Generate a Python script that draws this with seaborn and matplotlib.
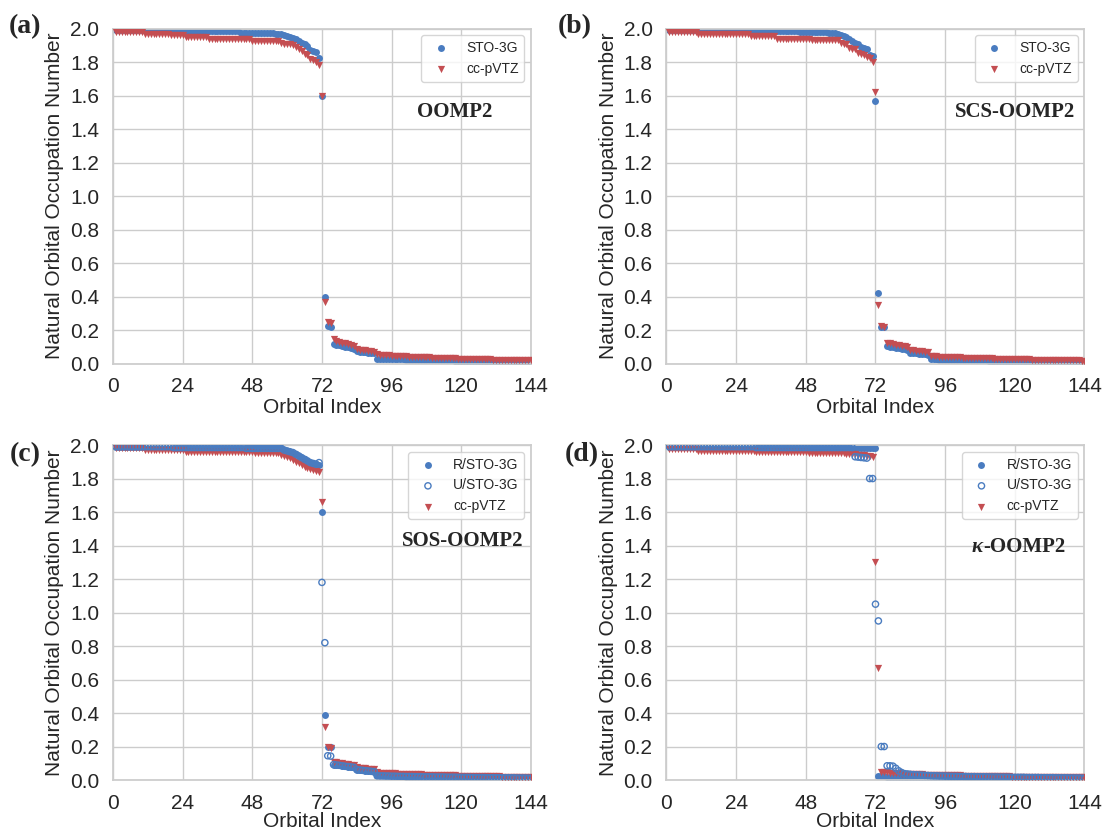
import numpy as np
import pandas as pd
import matplotlib
matplotlib.use("Agg")
import matplotlib.pyplot as plt
import seaborn as sns

# ---------------------------------------------------------------------------
# Natural orbital occupation numbers, orbitals 1..144 (72 doubly occupied)
# ---------------------------------------------------------------------------
n_orb = 144
orbital = np.arange(1, n_orb + 1)

# shared slow-decaying virtual tails (orbitals 97-144)
tail_sto_a = [
    0.026, 0.026, 0.025, 0.025, 0.024, 0.024, 0.023, 0.023, 0.022, 0.022, 0.022, 0.021,
    0.021, 0.021, 0.020, 0.020, 0.020, 0.019, 0.019, 0.019, 0.019, 0.018, 0.018, 0.018,
    0.018, 0.017, 0.017, 0.017, 0.017, 0.016, 0.016, 0.016, 0.016, 0.016, 0.015, 0.015,
    0.015, 0.015, 0.015, 0.014, 0.014, 0.014, 0.014, 0.014, 0.013, 0.013, 0.013, 0.012,
]
tail_sto_b = [
    0.023, 0.022, 0.022, 0.022, 0.021, 0.021, 0.021, 0.020, 0.020, 0.020, 0.019, 0.019,
    0.019, 0.019, 0.018, 0.018, 0.018, 0.018, 0.017, 0.017, 0.017, 0.017, 0.016, 0.016,
    0.016, 0.016, 0.016, 0.015, 0.015, 0.015, 0.015, 0.015, 0.014, 0.014, 0.014, 0.014,
    0.014, 0.013, 0.013, 0.013, 0.013, 0.013, 0.012, 0.012, 0.012, 0.012, 0.011, 0.011,
]
tail_tz_a = [
    0.047, 0.046, 0.045, 0.044, 0.043, 0.042, 0.041, 0.040, 0.040, 0.039, 0.038, 0.037,
    0.037, 0.036, 0.035, 0.035, 0.034, 0.033, 0.033, 0.032, 0.031, 0.031, 0.030, 0.030,
    0.029, 0.029, 0.028, 0.028, 0.027, 0.027, 0.026, 0.026, 0.025, 0.025, 0.024, 0.024,
    0.023, 0.023, 0.023, 0.022, 0.022, 0.021, 0.021, 0.021, 0.020, 0.020, 0.019, 0.019,
]
tail_tz_b = [
    0.040, 0.039, 0.038, 0.038, 0.037, 0.036, 0.036, 0.035, 0.034, 0.034, 0.033, 0.033,
    0.032, 0.032, 0.031, 0.031, 0.030, 0.030, 0.029, 0.029, 0.028, 0.028, 0.027, 0.027,
    0.026, 0.026, 0.026, 0.025, 0.025, 0.024, 0.024, 0.024, 0.023, 0.023, 0.022, 0.022,
    0.022, 0.021, 0.021, 0.021, 0.020, 0.020, 0.020, 0.019, 0.019, 0.019, 0.018, 0.018,
]

# (a) OOMP2
oomp2_sto = [
    1.990, 1.990, 1.990, 1.990, 1.990, 1.990, 1.990, 1.990, 1.990, 1.990, 1.990, 1.990,
    1.990, 1.990, 1.990, 1.990, 1.990, 1.990, 1.990, 1.990, 1.985, 1.985, 1.985, 1.985,
    1.985, 1.985, 1.985, 1.985, 1.985, 1.985, 1.985, 1.985, 1.985, 1.985, 1.985, 1.985,
    1.985, 1.985, 1.985, 1.985, 1.985, 1.985, 1.985, 1.975, 1.975, 1.975, 1.975, 1.975,
    1.975, 1.975, 1.975, 1.975, 1.975, 1.975, 1.975, 1.970, 1.968, 1.965, 1.960, 1.955,
    1.950, 1.945, 1.935, 1.925, 1.915, 1.905, 1.895, 1.870, 1.865, 1.860, 1.825, 1.600,
    0.395, 0.222, 0.220, 0.118, 0.112, 0.108, 0.104, 0.100, 0.096, 0.092, 0.088, 0.072,
    0.070, 0.068, 0.066, 0.064, 0.062, 0.060, 0.030, 0.029, 0.028, 0.028, 0.027, 0.027,
] + tail_sto_a
oomp2_tz = [
    1.980, 1.980, 1.980, 1.980, 1.980, 1.980, 1.980, 1.980, 1.980, 1.980, 1.970, 1.970,
    1.970, 1.970, 1.970, 1.970, 1.970, 1.970, 1.970, 1.960, 1.960, 1.960, 1.960, 1.960,
    1.950, 1.950, 1.950, 1.950, 1.950, 1.950, 1.950, 1.950, 1.940, 1.940, 1.940, 1.940,
    1.940, 1.940, 1.940, 1.940, 1.940, 1.940, 1.940, 1.940, 1.940, 1.940, 1.940, 1.928,
    1.928, 1.928, 1.928, 1.928, 1.928, 1.928, 1.928, 1.928, 1.928, 1.912, 1.910, 1.908,
    1.905, 1.900, 1.890, 1.875, 1.865, 1.850, 1.845, 1.820, 1.815, 1.800, 1.780, 1.600,
    0.365, 0.248, 0.245, 0.145, 0.135, 0.130, 0.125, 0.120, 0.115, 0.110, 0.105, 0.085,
    0.082, 0.080, 0.078, 0.075, 0.072, 0.070, 0.055, 0.053, 0.051, 0.050, 0.049, 0.048,
] + tail_tz_a

# (b) SCS-OOMP2
scs_sto = [
    1.990, 1.990, 1.990, 1.990, 1.990, 1.990, 1.990, 1.990, 1.990, 1.990, 1.990, 1.990,
    1.990, 1.990, 1.990, 1.990, 1.990, 1.990, 1.990, 1.985, 1.985, 1.985, 1.985, 1.985,
    1.985, 1.985, 1.985, 1.985, 1.985, 1.985, 1.985, 1.985, 1.985, 1.985, 1.985, 1.985,
    1.985, 1.985, 1.985, 1.985, 1.985, 1.985, 1.985, 1.985, 1.985, 1.978, 1.978, 1.978,
    1.978, 1.978, 1.978, 1.978, 1.978, 1.978, 1.978, 1.975, 1.975, 1.975, 1.965, 1.960,
    1.955, 1.950, 1.935, 1.925, 1.915, 1.905, 1.890, 1.885, 1.880, 1.840, 1.835, 1.570,
    0.420, 0.220, 0.218, 0.105, 0.100, 0.096, 0.092, 0.090, 0.087, 0.084, 0.080, 0.065,
    0.062, 0.060, 0.058, 0.056, 0.054, 0.052, 0.026, 0.025, 0.025, 0.024, 0.024, 0.023,
] + tail_sto_b
scs_tz = [
    1.980, 1.980, 1.980, 1.980, 1.980, 1.980, 1.980, 1.980, 1.980, 1.980, 1.970, 1.970,
    1.970, 1.970, 1.970, 1.970, 1.970, 1.970, 1.970, 1.970, 1.970, 1.970, 1.970, 1.970,
    1.970, 1.970, 1.970, 1.970, 1.955, 1.955, 1.955, 1.955, 1.955, 1.955, 1.955, 1.955,
    1.955, 1.940, 1.940, 1.940, 1.940, 1.940, 1.940, 1.940, 1.940, 1.940, 1.940, 1.940,
    1.940, 1.930, 1.930, 1.930, 1.930, 1.930, 1.930, 1.930, 1.930, 1.930, 1.930, 1.915,
    1.910, 1.905, 1.885, 1.880, 1.875, 1.855, 1.850, 1.845, 1.830, 1.825, 1.800, 1.620,
    0.350, 0.222, 0.220, 0.125, 0.120, 0.115, 0.112, 0.110, 0.106, 0.103, 0.100, 0.080,
    0.078, 0.076, 0.074, 0.072, 0.070, 0.068, 0.045, 0.044, 0.043, 0.042, 0.041, 0.040,
] + tail_tz_b

# (c) SOS-OOMP2
sos_rsto = [
    1.990, 1.990, 1.990, 1.990, 1.990, 1.990, 1.990, 1.990, 1.990, 1.990, 1.990, 1.990,
    1.990, 1.990, 1.990, 1.990, 1.990, 1.990, 1.990, 1.990, 1.985, 1.985, 1.985, 1.985,
    1.985, 1.985, 1.985, 1.985, 1.985, 1.985, 1.985, 1.985, 1.985, 1.985, 1.985, 1.985,
    1.985, 1.985, 1.985, 1.985, 1.985, 1.985, 1.985, 1.985, 1.985, 1.980, 1.980, 1.980,
    1.980, 1.980, 1.980, 1.980, 1.980, 1.980, 1.980, 1.980, 1.980, 1.980, 1.970, 1.965,
    1.960, 1.955, 1.945, 1.935, 1.925, 1.915, 1.905, 1.895, 1.890, 1.885, 1.880, 1.600,
    0.390, 0.200, 0.198, 0.092, 0.090, 0.088, 0.085, 0.082, 0.080, 0.078, 0.076, 0.062,
    0.060, 0.058, 0.056, 0.054, 0.052, 0.050, 0.026, 0.025, 0.025, 0.024, 0.024, 0.023,
] + tail_sto_b
sos_usto = [
    1.990, 1.990, 1.990, 1.990, 1.990, 1.990, 1.990, 1.990, 1.990, 1.990, 1.990, 1.990,
    1.990, 1.990, 1.990, 1.990, 1.990, 1.990, 1.990, 1.990, 1.985, 1.985, 1.985, 1.985,
    1.985, 1.985, 1.985, 1.985, 1.985, 1.985, 1.985, 1.985, 1.985, 1.985, 1.985, 1.985,
    1.985, 1.985, 1.985, 1.985, 1.985, 1.985, 1.985, 1.985, 1.985, 1.980, 1.980, 1.980,
    1.980, 1.980, 1.980, 1.980, 1.980, 1.980, 1.980, 1.980, 1.980, 1.980, 1.970, 1.965,
    1.960, 1.955, 1.945, 1.935, 1.925, 1.915, 1.905, 1.895, 1.890, 1.885, 1.895, 1.180,
    0.820, 0.145, 0.143, 0.092, 0.090, 0.088, 0.085, 0.082, 0.080, 0.078, 0.076, 0.062,
    0.060, 0.058, 0.056, 0.054, 0.052, 0.050, 0.026, 0.025, 0.025, 0.024, 0.024, 0.023,
] + tail_sto_b
sos_tz = [
    1.980, 1.980, 1.980, 1.980, 1.980, 1.980, 1.980, 1.980, 1.980, 1.980, 1.970, 1.970,
    1.970, 1.970, 1.970, 1.970, 1.970, 1.970, 1.970, 1.970, 1.970, 1.970, 1.970, 1.970,
    1.960, 1.960, 1.960, 1.960, 1.960, 1.960, 1.960, 1.960, 1.960, 1.960, 1.960, 1.960,
    1.960, 1.960, 1.960, 1.960, 1.960, 1.960, 1.960, 1.960, 1.960, 1.960, 1.960, 1.960,
    1.955, 1.955, 1.955, 1.955, 1.955, 1.955, 1.950, 1.950, 1.950, 1.940, 1.935, 1.930,
    1.920, 1.910, 1.900, 1.890, 1.880, 1.870, 1.862, 1.856, 1.850, 1.845, 1.838, 1.660,
    0.315, 0.195, 0.190, 0.108, 0.105, 0.102, 0.100, 0.097, 0.094, 0.092, 0.090, 0.075,
    0.073, 0.071, 0.069, 0.067, 0.066, 0.065, 0.045, 0.044, 0.043, 0.042, 0.041, 0.040,
] + tail_tz_b

# (d) kappa-OOMP2
kappa_rsto = [
    1.990, 1.990, 1.990, 1.990, 1.990, 1.990, 1.990, 1.990, 1.990, 1.990, 1.990, 1.990,
    1.990, 1.990, 1.990, 1.990, 1.990, 1.990, 1.990, 1.990, 1.990, 1.990, 1.990, 1.990,
    1.990, 1.990, 1.990, 1.990, 1.990, 1.990, 1.985, 1.985, 1.985, 1.985, 1.985, 1.985,
    1.985, 1.985, 1.985, 1.985, 1.985, 1.985, 1.985, 1.985, 1.985, 1.985, 1.985, 1.985,
    1.985, 1.985, 1.985, 1.985, 1.985, 1.985, 1.985, 1.985, 1.985, 1.985, 1.985, 1.985,
    1.985, 1.985, 1.985, 1.985, 1.985, 1.985, 1.985, 1.985, 1.985, 1.985, 1.985, 1.985,
    0.022, 0.022, 0.022, 0.021, 0.021, 0.021, 0.021, 0.020, 0.020, 0.020, 0.020, 0.020,
    0.019, 0.019, 0.019, 0.019, 0.018, 0.018, 0.018, 0.018, 0.018, 0.017, 0.017, 0.017,
    0.017, 0.017, 0.016, 0.016, 0.016, 0.016, 0.016, 0.015, 0.015, 0.015, 0.015, 0.015,
    0.014, 0.014, 0.014, 0.014, 0.014, 0.014, 0.013, 0.013, 0.013, 0.013, 0.013, 0.013,
    0.013, 0.012, 0.012, 0.012, 0.012, 0.012, 0.012, 0.012, 0.011, 0.011, 0.011, 0.011,
    0.011, 0.011, 0.011, 0.011, 0.010, 0.010, 0.010, 0.010, 0.010, 0.010, 0.010, 0.010,
]
kappa_usto = [
    1.990, 1.990, 1.990, 1.990, 1.990, 1.990, 1.990, 1.990, 1.990, 1.990, 1.990, 1.990,
    1.990, 1.990, 1.990, 1.990, 1.990, 1.990, 1.990, 1.990, 1.990, 1.990, 1.990, 1.990,
    1.990, 1.990, 1.990, 1.990, 1.990, 1.990, 1.985, 1.985, 1.985, 1.985, 1.985, 1.985,
    1.985, 1.985, 1.985, 1.985, 1.985, 1.985, 1.985, 1.985, 1.985, 1.985, 1.985, 1.985,
    1.985, 1.985, 1.985, 1.985, 1.985, 1.985, 1.985, 1.985, 1.985, 1.985, 1.985, 1.985,
    1.985, 1.985, 1.985, 1.985, 1.930, 1.928, 1.926, 1.924, 1.922, 1.800, 1.800, 1.050,
    0.950, 0.200, 0.200, 0.085, 0.085, 0.083, 0.070, 0.055, 0.045, 0.038, 0.036, 0.034,
    0.032, 0.031, 0.030, 0.029, 0.028, 0.027, 0.026, 0.025, 0.025, 0.024, 0.024, 0.023,
] + tail_sto_b
kappa_tz = [
    1.975, 1.975, 1.975, 1.975, 1.975, 1.975, 1.975, 1.975, 1.975, 1.975, 1.965, 1.965,
    1.965, 1.965, 1.965, 1.965, 1.965, 1.965, 1.965, 1.965, 1.965, 1.965, 1.965, 1.965,
    1.965, 1.965, 1.965, 1.965, 1.965, 1.965, 1.958, 1.958, 1.958, 1.958, 1.958, 1.958,
    1.958, 1.958, 1.958, 1.958, 1.958, 1.958, 1.958, 1.958, 1.958, 1.958, 1.958, 1.958,
    1.950, 1.950, 1.950, 1.950, 1.950, 1.950, 1.950, 1.950, 1.950, 1.950, 1.950, 1.950,
    1.950, 1.948, 1.946, 1.945, 1.944, 1.942, 1.940, 1.938, 1.936, 1.935, 1.930, 1.300,
    0.670, 0.050, 0.048, 0.046, 0.044, 0.042, 0.041, 0.040, 0.039, 0.038, 0.037, 0.036,
    0.035, 0.035, 0.034, 0.034, 0.033, 0.033, 0.032, 0.032, 0.031, 0.031, 0.030, 0.030,
    0.029, 0.029, 0.028, 0.028, 0.028, 0.027, 0.027, 0.026, 0.026, 0.026, 0.025, 0.025,
    0.025, 0.024, 0.024, 0.024, 0.023, 0.023, 0.023, 0.022, 0.022, 0.022, 0.021, 0.021,
    0.021, 0.021, 0.020, 0.020, 0.020, 0.020, 0.019, 0.019, 0.019, 0.019, 0.018, 0.018,
    0.018, 0.018, 0.018, 0.017, 0.017, 0.017, 0.017, 0.016, 0.016, 0.016, 0.016, 0.016,
]

x_ticks = [0, 24, 48, 72, 96, 120, 144]
y_ticks = [0.0, 0.2, 0.4, 0.6, 0.8, 1.0, 1.2, 1.4, 1.6, 1.8, 2.0]

# ---------------------------------------------------------------------------
sns.set_theme(style="whitegrid")
plt.rcParams["font.family"] = ["Liberation Sans", "DejaVu Sans"]

BLUE = "#4A7CC0"
RED = "#C44E52"
SERIF = ["Liberation Serif", "DejaVu Serif"]

fig = plt.figure(figsize=(11.02, 8.30), dpi=100)
w, h = 0.3793, 0.4036
ax_a = fig.add_axes([0.1025, 0.5620, w, h])
ax_b = fig.add_axes([0.6048, 0.5620, w, h])
ax_c = fig.add_axes([0.1025, 0.0602, w, h])
ax_d = fig.add_axes([0.6048, 0.0602, w, h])


def draw_filled(ax, values, label, color, marker, size, z):
    df = pd.DataFrame({"orbital": orbital, "occ": values})
    sns.scatterplot(data=df, x="orbital", y="occ", ax=ax, color=color,
                    marker=marker, s=size, linewidth=0, label=label, zorder=z)


def draw_open(ax, values, label, z):
    df = pd.DataFrame({"orbital": orbital, "occ": values})
    sns.scatterplot(data=df, x="orbital", y="occ", ax=ax, marker="o", s=20,
                    facecolors="none", edgecolors=BLUE, linewidth=1.0,
                    label=label, zorder=z)


panels = [
    (ax_a, "OOMP2", (0.818, 0.751),
     [("f", oomp2_sto, "STO-3G"), ("t", oomp2_tz, "cc-pVTZ")]),
    (ax_b, "SCS-OOMP2", (0.833, 0.751),
     [("f", scs_sto, "STO-3G"), ("t", scs_tz, "cc-pVTZ")]),
    (ax_c, "SOS-OOMP2", (0.837, 0.715),
     [("f", sos_rsto, "R/STO-3G"), ("u", sos_usto, "U/STO-3G"), ("t", sos_tz, "cc-pVTZ")]),
    (ax_d, None, None,
     [("f", kappa_rsto, "R/STO-3G"), ("u", kappa_usto, "U/STO-3G"), ("t", kappa_tz, "cc-pVTZ")]),
]

for i, (ax, method, mpos, series) in enumerate(panels):
    for kind, vals, lab in series:
        if kind == "f":
            draw_filled(ax, vals, lab, BLUE, "o", 25, 2)
        elif kind == "t":
            draw_filled(ax, vals, lab, RED, "v", 27, 3)
        else:
            draw_open(ax, vals, lab, 4)

    ax.set_xlim(0, 144)
    ax.set_ylim(0, 2.0)
    ax.set_xticks(x_ticks)
    ax.set_yticks(y_ticks)
    ax.set_yticklabels([f"{v:.1f}" for v in y_ticks])
    ax.tick_params(labelsize=15, pad=4)
    ax.set_xlabel("Orbital Index", fontsize=15, labelpad=1 if i < 2 else -1)
    ax.set_ylabel("Natural Orbital Occupation Number", fontsize=15, labelpad=4)
    ax.legend(loc="upper right", fontsize=10, frameon=True)
    if method is not None:
        ax.text(mpos[0], mpos[1], method, transform=ax.transAxes, ha="center",
                va="center", fontsize=15, fontweight="bold", family=SERIF)

# kappa set in bold italic, followed by the upright method name
ax_d.text(0.756, 0.697, "\u03ba", transform=ax_d.transAxes, ha="right",
          va="center", fontsize=15, fontweight="bold", fontstyle="italic",
          family=SERIF)
ax_d.text(0.758, 0.697, "-OOMP2", transform=ax_d.transAxes, ha="left",
          va="center", fontsize=15, fontweight="bold", family=SERIF)

for tag, px, py in [("(a)", 25, 27), ("(b)", 575, 27), ("(c)", 25, 455), ("(d)", 582, 455)]:
    fig.text(px / 1102, 1 - py / 830, tag, ha="center", va="center",
             fontsize=20, fontweight="bold", family=SERIF)

fig.savefig("out.png", dpi=100)
